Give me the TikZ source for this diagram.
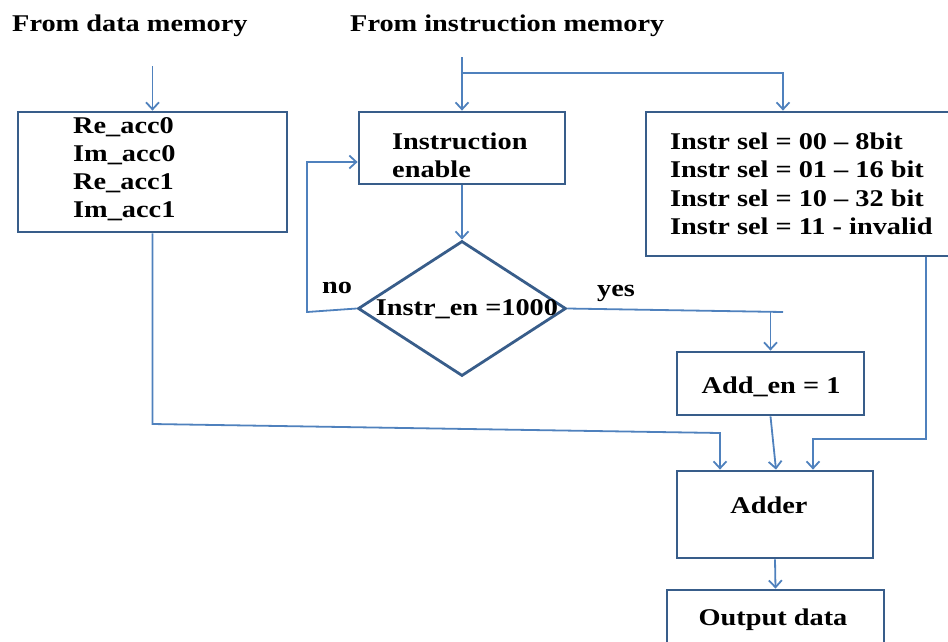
\documentclass[tikz,border=0pt]{standalone}
\usepackage{fontspec}
\setmainfont[FakeStretch=1.18]{Liberation Serif}
\usetikzlibrary{arrows.meta,shapes.geometric}
\definecolor{lineblue}{HTML}{4F81BD}
\definecolor{boxblue}{HTML}{385D8A}
\begin{document}
\begin{tikzpicture}[x=1pt,y=-1pt,
  box/.style={draw=boxblue,line width=2.8pt,rectangle,inner sep=0pt},
  conn/.style={draw=lineblue,line width=1.8pt},
  arr/.style={conn,-{Straight Barb[length=7pt,width=13pt]}},
  txt/.style={font=\fontsize{24}{28}\selectfont\bfseries,inner sep=0pt,anchor=base west,text=black},
  ctxt/.style={txt,anchor=base}]
\useasboundingbox (0,0) rectangle (948,641);
\clip (0,0) rectangle (948,641);
% boxes
\node[box,minimum width=269pt,minimum height=120pt] (b1) at (152.5,172) {};
\node[box,minimum width=206pt,minimum height=72pt] (b2) at (462,148) {};
\node[box,minimum width=309pt,minimum height=144pt] (b3) at (800.5,184) {};
\node[draw=boxblue,line width=2.8pt,diamond,inner sep=0pt,minimum width=208pt,minimum height=135pt] (dia) at (462,308.5) {};
\node[box,minimum width=187pt,minimum height=63pt] (ae) at (770.5,383.5) {};
\node[box,minimum width=196pt,minimum height=87pt] (add) at (775,514.5) {};
\node[box,minimum width=217pt,minimum height=70pt] (out) at (775.5,625) {};
% texts
\node[txt] (t1) at (12,31) {From data memory};
\node[txt] (t2) at (350,31) {From instruction memory};
\node[txt] (r1) at (73,133) {Re\_acc0};
\node[txt] (r2) at (73,161) {Im\_acc0};
\node[txt] (r3) at (73,189) {Re\_acc1};
\node[txt] (r4) at (73,217) {Im\_acc1};
\node[txt] (e1) at (392,149) {Instruction};
\node[txt] (e2) at (392,177) {enable};
\node[ctxt] (dt) at (467,315) {Instr\_en =1000};
\node[txt] (no) at (322,293) {no};
\node[txt] (yes) at (597,296) {yes};
\node[txt] (s1t) at (670,149) {Instr sel = 00 – 8bit};
\node[txt] (s2t) at (670,177) {Instr sel = 01 – 16 bit};
\node[txt] (s3t) at (670,206) {Instr sel = 10 – 32 bit};
\node[txt] (s4t) at (670,234) {Instr sel = 11 - invalid};
\node[ctxt] (aet) at (771,393) {Add\_en = 1};
\node[ctxt] (addt) at (769,513) {Adder};
\node[ctxt] (outt) at (773,625) {Output data};
% coordinates
\coordinate (d0) at (152.5,66);
\coordinate (i0) at (462,57);
\coordinate (i1) at (462,73);
\coordinate (i2) at (783,73);
\coordinate (nx) at (307,312);
\coordinate (y1) at (783,312);
\coordinate (y2) at (770.5,312);
\coordinate (c1) at (152.5,424);
\coordinate (c2) at (720,433);
\coordinate (s1) at (926,439);
\coordinate (s2) at (813,439);
% connectors
\draw[arr] (d0) -- (b1.north);
\draw[arr] (i0) -- (b2.north);
\draw[arr] (i1) -- (i2) -- (i2 |- b3.north);
\draw[arr] (b2.south) -- (dia.north);
\draw[arr] (dia.west) -- (nx) |- ([yshift=-14pt]b2.west);
\draw[conn] (dia.east) -- (y1);
\draw[arr] (y2) -- (ae.north);
\draw[arr] (ae.south) -- ([xshift=1pt]add.north);
\draw[arr] (b1.south) -- (c1) -- (c2) -- (c2 |- add.north);
\draw[arr] (b3.south -| s1) -- (s1) -- (s2) -- (s2 |- add.north);
\draw[arr] (add.south) -- (out.north);
\end{tikzpicture}
\end{document}
